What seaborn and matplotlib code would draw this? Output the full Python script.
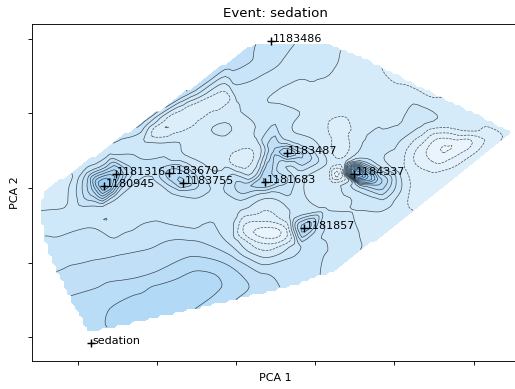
import numpy as np
import pandas as pd
import matplotlib
matplotlib.use("Agg")
import matplotlib.pyplot as plt
import matplotlib.tri as mtri
from matplotlib.colors import LinearSegmentedColormap, Normalize
import seaborn as sns

# ---- labelled events (PCA coordinates) ----
event_names = ["1183486", "1181316", "1180945", "1183670", "1183755",
               "1183487", "1181683", "1184337", "1181857", "sedation"]
event_x = [0.44, -1.52, -1.67, -0.85, -0.67, 0.64, 0.37, 1.49, 0.86, -1.83]
event_y = [1.97, 0.19, 0.03, 0.20, 0.07, 0.47, 0.08, 0.19, -0.54, -2.08]

# ---- sampled field (PCA 1, PCA 2, value) ----
sample_x = [
    -2.41, -1.84, -1.21, -0.58, -0.08, 0.21, 0.68, 1.19, 1.67, 2.07, 2.45, 2.70, 3.08, 3.50,
    3.08, 2.64, 2.32, 2.07, 1.22, 0.81, 0.52, -0.08, -0.62, -1.21, -1.87, -2.10, -2.25, -2.39,
    -2.45, -2.51,
    0.68, 0.93, 0.68, 0.49, 0.18, -0.08, 0.05, -0.96, -0.58, -0.20, -1.21, -1.59, 1.31, 1.06,
    1.44, 1.94, 2.32, 2.07, 2.64, 2.95, 2.20, -0.77, -0.33, 0.05, -0.77,
    2.64, 2.95, 2.32, 3.23, 2.45, 2.83, 2.20, 2.13,
    1.50, 1.67, 1.84, 2.01, 1.59, 1.57, 1.79, 1.31, 1.38, 1.19, 1.16, 2.01, 1.69,
    0.64, 0.47, 0.85, 0.64, 0.64, 0.30, 1.04,
    0.34, 0.09, -0.23, 0.66, 0.81, 0.20, 0.37, 0.05, -0.20,
    -0.83, -0.66, -0.98, -0.48, -0.77, -1.09, -0.39, -0.64,
    -1.52, -1.67, -1.84, -1.91, -1.31, -1.49, -1.72, -2.10, -2.16,
    -1.21, -0.45, 0.05, -1.72, -2.10,
    -1.84, -1.09, -0.33, -1.46, -0.58, -1.84, -1.09, -0.08, 0.30, -1.72, -0.96, -0.39, -1.34, 0.05,
    0.37, 0.14, 0.62, 0.37, 0.37, -0.08, 0.81,
    0.85, 1.00, 1.06, 1.31, 1.19, 0.68, 1.38, 1.69, 1.57, 1.88, 1.82,
]
sample_y = [
    -0.03, 0.40, 0.87, 1.34, 1.72, 1.93, 1.93, 1.93, 1.72, 1.50, 1.30, 1.17, 0.97, 0.75,
    0.40, 0.01, -0.26, -0.47, -1.13, -1.29, -1.37, -1.53, -1.66, -1.80, -1.95, -1.50, -1.17, -0.83,
    -0.54, -0.26,
    1.65, 1.72, 1.25, 0.98, 0.78, 0.64, 1.05, 0.78, 1.02, 1.25, 0.58, 0.51, 0.81, 1.05,
    1.18, 1.18, 0.94, 0.94, 0.91, 0.78, 1.25, 0.64, 0.85, 1.05, 0.90,
    0.54, 0.64, 0.44, 0.67, 0.13, 0.35, -0.09, 0.24,
    0.20, 0.13, 0.07, 0.00, 0.00, 0.38, 0.31, 0.20, 0.38, 0.04, 0.31, 0.58, 0.58,
    0.48, 0.51, 0.44, 0.64, 0.30, 0.51, 0.51,
    0.07, 0.00, -0.07, 0.11, 0.13, 0.17, -0.11, 0.34, 0.38,
    0.20, 0.07, 0.31, 0.01, -0.09, 0.07, 0.24, 0.44,
    0.20, 0.04, -0.03, 0.21, 0.24, -0.13, 0.31, 0.04, -0.16,
    -0.27, -0.30, -0.23, -0.32, -0.36,
    -0.56, -0.54, -0.50, -0.86, -0.77, -1.17, -1.10, -1.03, -1.23, -1.50, -1.53, -1.28, -1.74, -1.30,
    -0.60, -0.58, -0.60, -0.43, -0.79, -0.70, -0.83,
    -0.54, -0.63, -0.81, -0.50, -0.23, -0.36, -0.90, -0.70, -0.30, -0.23, -0.50,
]
sample_v = [
    0.2, 0.6, 2.8, 3.6, 3.2, 2.6, 1.6, 0.8, -0.2, -0.8, -0.8, -0.3, 0.0, 0.0,
    -0.6, -0.8, -0.6, -0.3, 1.2, 2.0, 2.6, 3.6, 4.6, 4.8, 4.0, 3.6, 2.6, 2.0,
    1.2, 0.4,
    1.2, 1.0, 0.2, 1.0, 0.3, 0.4, 0.5, -1.4, -1.3, -0.8, 0.8, 1.0, -0.8, 0.0,
    0.1, 0.1, 1.0, 0.4, 0.3, -0.3, 0.0, 0.4, 0.4, 0.5, -1.4,
    -3.6, -2.6, -2.0, -1.0, -1.1, -1.6, -0.6, -0.4,
    12.0, 8.5, 4.5, 1.5, 2.5, 2.0, 1.5, -2.5, 0.0, 0.0, 0.3, 0.6, 0.8,
    5.5, 3.5, 3.5, 1.5, 1.5, 0.2, 0.8,
    4.5, 3.0, 1.2, 2.5, 0.8, 0.8, 0.8, -1.0, 0.0,
    4.0, 4.5, 2.0, 2.5, 1.5, 1.0, 0.8, 0.5,
    6.0, 8.5, 4.0, 2.0, 2.5, 1.5, 2.0, 0.5, 0.3,
    0.8, 0.6, 1.0, 0.7, 0.8,
    1.6, 1.8, 1.6, 2.4, 2.8, 2.9, 3.3, 3.4, 3.0, 4.0, 5.4, 5.0, 5.1, 3.8,
    -3.0, -2.0, -2.0, -1.3, -1.0, 1.2, 1.5,
    5.0, 2.0, 1.6, 1.0, 0.3, 0.5, 1.2, 0.2, 0.5, 0.8, 0.0,
]

x_ticks = [-2, -1, 0, 1, 2, 3]
y_ticks = [-2, -1, 0, 1, 2]
levels = np.arange(-4.5, 13.0, 1.0)

# ---- figure ----
plt.rcParams["font.family"] = ["DejaVu Sans"]
fig = plt.figure(figsize=(515 / 80, 389 / 80), dpi=80)
ax = fig.add_axes([32 / 515, 28 / 389, 486 / 515, 337 / 389])

tri = mtri.Triangulation(np.array(sample_x), np.array(sample_y))
interp = mtri.CubicTriInterpolator(tri, np.array(sample_v), kind="geom")
gx, gy = np.meshgrid(np.linspace(min(sample_x), max(sample_x), 125),
                     np.linspace(min(sample_y), max(sample_y), 95))
gz = interp(gx, gy)

vmin, vmax = levels[0], levels[-1]
anchors = [(-4.5, "#f3f9ff"), (0.0, "#d6ebfa"), (5.0, "#b2d9f6"), (12.5, "#7fbbee")]
cmap = LinearSegmentedColormap.from_list(
    "lightblues", [((v - vmin) / (vmax - vmin), c) for v, c in anchors])
norm = Normalize(vmin=vmin, vmax=vmax)

ax.contourf(gx, gy, gz, levels=levels, cmap=cmap, norm=norm, extend="both")
ax.contour(gx, gy, gz, levels=levels, colors="k", linewidths=0.6, alpha=0.7)

ev = pd.DataFrame({"x": event_x, "y": event_y, "name": event_names})
sns.scatterplot(data=ev, x="x", y="y", marker="+", color="k", s=50,
                linewidth=1.3, ax=ax, zorder=5, legend=False)
for _, r in ev.iterrows():
    ax.text(r["x"] + 0.02, r["y"] - 0.01, r["name"], fontsize=10, zorder=6)

ax.set_xlim(-2.576, 3.561)
ax.set_ylim(-2.322, 2.201)
ax.set_xticks(x_ticks)
ax.set_yticks(y_ticks)
ax.set_xticklabels([])
ax.set_yticklabels([])
ax.set_xlabel("PCA 1")
ax.set_ylabel("PCA 2")
ax.set_title("Event: sedation")

fig.savefig("out.png", dpi=80)
